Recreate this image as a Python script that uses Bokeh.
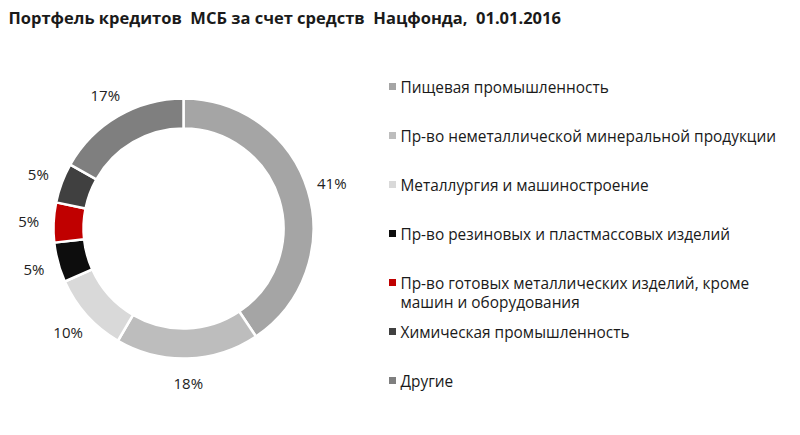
import numpy as np

from bokeh.core.properties import value
from bokeh.embed import file_html
from bokeh.models import ColumnDataSource, Range1d
from bokeh.plotting import figure
from bokeh.resources import INLINE

# loan portfolio shares, clockwise from 12 o'clock
title = "Портфель кредитов\u00a0 МСБ за счет средств\u00a0 Нацфонда,\u00a0 01.01.2016"
sectors = [
    "Пищевая промышленность",
    "Пр-во неметаллической минеральной продукции",
    "Металлургия и машиностроение",
    "Пр-во резиновых и пластмассовых изделий",
    "Пр-во готовых металлических изделий, кроме\nмашин и оборудования",
    "Химическая промышленность",
    "Другие",
]
shares = [41, 18, 10, 5, 5, 5, 17]
colors = ["#a5a5a5", "#bdbdbd", "#d9d9d9", "#0d0d0d", "#c00000", "#404040", "#7f7f7f"]

W, H = 784, 419
FONT = "Open Sans"

# donut geometry (canvas units = pixels, y up)
cx, cy = 183, 191
r_in, r_out, r_lab = 100, 130, 155

vals = np.array(shares, dtype=float)
cum = np.concatenate([[0], np.cumsum(vals)]) / vals.sum()
start = np.pi / 2 - cum[:-1] * 2 * np.pi
end = np.pi / 2 - cum[1:] * 2 * np.pi
mid = (start + end) / 2

src = ColumnDataSource(dict(
    start=start, end=end, color=colors,
    lx=cx + r_lab * np.cos(mid), ly=cy + r_lab * np.sin(mid),
    pct=[f"{s}%" for s in shares],
))

p = figure(width=W, height=H, x_range=Range1d(0, W), y_range=Range1d(0, H),
           tools="", toolbar_location=None, output_backend="svg",
           min_border=0, background_fill_color="white")
p.axis.visible = False
p.grid.visible = False
p.outline_line_color = None

# slices, white gaps between them
p.annular_wedge(x=cx, y=cy, inner_radius=r_in, outer_radius=r_out,
                start_angle="start", end_angle="end", direction="clock",
                fill_color="color", line_color="white", line_width=2.5, source=src)

# percent labels outside the ring
p.text(x="lx", y="ly", text="pct", source=src, text_align="center",
       text_baseline="middle", text_font=value(FONT), text_font_size="15px",
       text_color="#222222")

# legend drawn by hand: small squares and labels, one row every 49px
rows = np.arange(len(sectors))
ly0, step = 333, 49
leg = ColumnDataSource(dict(
    y=ly0 - step * rows, ytxt=ly0 - step * rows + 10, color=colors, label=sectors,
))
p.scatter(x=392, y="y", size=7, marker="square", fill_color="color",
          line_color=None, source=leg)
p.text(x=400, y="ytxt", text="label", source=leg, text_align="left",
       text_baseline="top", text_font=value(FONT), text_font_size="15.4px",
       text_color="#1a1a1a", text_line_height=0.95)

# chart title
p.text(x=[8], y=[402], text=[title], text_align="left", text_baseline="middle",
       text_font=value(FONT), text_font_size="16.5px", text_font_style="bold",
       text_color="#1a1a1a")

open("out.html", "w").write(file_html(p, INLINE))
